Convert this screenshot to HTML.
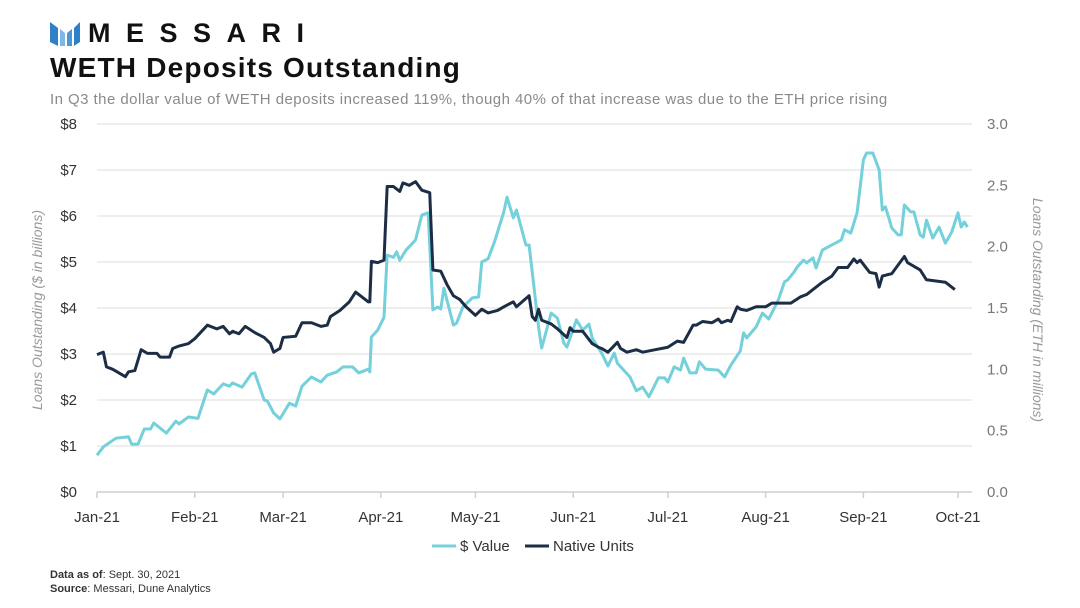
<!DOCTYPE html>
<html><head><meta charset="utf-8"><style>
body{margin:0;width:1080px;height:608px;background:#fff;font-family:"Liberation Sans",sans-serif;overflow:hidden;position:relative}
.t{position:absolute;white-space:nowrap}
</style></head><body>
<svg class="t" style="left:50px;top:20px" width="30" height="28" viewBox="0 0 30 28">
<polygon points="0,2 8,8 8,26 0,22" fill="#2f7fc9"/><polygon points="10,9 15,13 15,26 10,26" fill="#7fb8e6"/><polygon points="17,13 22,9 22,26 17,26" fill="#4a96d6"/><polygon points="24,8 30,2 30,22 24,26" fill="#2f7fc9"/></svg>
<div class="t" style="left:88px;top:18px;font-size:27px;font-weight:bold;letter-spacing:15.5px;color:#111">MESSARI</div>
<div class="t" style="left:50px;top:52px;font-size:28px;font-weight:bold;letter-spacing:1.2px;color:#111">WETH Deposits Outstanding</div>
<div class="t" style="left:50px;top:91px;font-size:15px;color:#8a8a8a;letter-spacing:0.45px">In Q3 the dollar value of WETH deposits increased 119%, though 40% of that increase was due to the ETH price rising</div>
<svg id="chart" class="t" style="left:0;top:0" width="1080" height="608"></svg>
<div class="t" style="left:50px;top:569px;font-size:11px;color:#333"><b>Data as of</b>: Sept. 30, 2021</div>
<div class="t" style="left:50px;top:583px;font-size:11px;color:#333"><b>Source</b>: Messari, Dune Analytics</div>
<script>
const monthLabels=["Jan-21","Feb-21","Mar-21","Apr-21","May-21","Jun-21","Jul-21","Aug-21","Sep-21","Oct-21"];
const monthDays=[0,31,59,90,120,151,181,212,243,273];
const leftTicks=[0,1,2,3,4,5,6,7,8];
const rightTicks=[0,0.5,1,1.5,2,2.5,3];
const usdDays=[0,2,6,10,11,13,15,17,18,22,25,26,29,32,35,37,40,42,43,46,49,50,53,54,56,58,61,63,65,68,71,73,76,78,81,83,86,86.5,87,89,91,92,94,95,96,98,101,103,105,106.5,108,109,110,113,114,116,119,121,122,124,126,129,130,132,133,136,137,140,140.5,141,144,146,148,149,152,154,156,157,160,162,164,165,169,171,173,175,178,180,181,183,185,186,188,190,191,193,197,199,201,204,205,206,209,211,213,216,218,219,221,222,224,225,227,228,230,233,236,237,239,241,243,244,246,248,249,250,252,254,255,256,258,259,261,262,263,265,267,269,271,273,274,275,276];
const usdValues=[0.8,0.98,1.17,1.2,1.04,1.04,1.37,1.37,1.5,1.28,1.54,1.48,1.63,1.6,2.22,2.13,2.35,2.3,2.37,2.28,2.57,2.59,2.0,1.98,1.72,1.59,1.93,1.87,2.3,2.5,2.39,2.54,2.61,2.72,2.72,2.59,2.67,2.61,3.37,3.52,3.8,5.15,5.1,5.22,5.04,5.26,5.48,6.02,6.07,3.96,4.02,3.98,4.43,3.63,3.67,4.02,4.22,4.24,5.0,5.07,5.43,6.09,6.41,5.96,6.13,5.37,5.37,3.6,3.35,3.13,3.89,3.78,3.24,3.15,3.74,3.52,3.65,3.35,3.02,2.74,3.02,2.8,2.5,2.2,2.28,2.07,2.48,2.48,2.39,2.72,2.65,2.91,2.59,2.59,2.83,2.67,2.65,2.5,2.76,3.07,3.46,3.35,3.59,3.89,3.76,4.17,4.57,4.61,4.78,4.89,5.04,4.98,5.09,4.87,5.26,5.37,5.48,5.7,5.63,6.07,7.22,7.37,7.37,7.0,6.13,6.2,5.74,5.59,5.59,6.24,6.09,6.09,5.59,5.54,5.91,5.52,5.76,5.41,5.65,6.07,5.76,5.87,5.76];
const ethDays=[0,2,3,5,9,10,12,14,16,19,20,23,24,26,29,31,35,38,40,42,43,45,47,50,53,55,56,58,59,63,65,68,71,73,74,77,80,82,86,86.5,87,89,91,92,94,96,97,99,101,103,105.5,106.5,109,111,113,115,116,117,120,122,124,127,129,132,133,137,138,139,140,141,144,146,149,150,151,154,157,159,160,162,165,166,168,171,173,177,181,184,186,189,190,192,195,197,198,200,201,203,204,206,209,212,214,220,223,225,227,230,233,235,238,240,241,242,245,247,248,249,252,256,257,261,263,269,272,273,275,276];
const ethValues=[1.12,1.14,1.02,1.0,0.94,0.98,0.99,1.16,1.13,1.13,1.1,1.1,1.17,1.19,1.21,1.25,1.36,1.33,1.35,1.29,1.31,1.29,1.35,1.3,1.26,1.21,1.14,1.17,1.26,1.27,1.38,1.38,1.35,1.36,1.43,1.48,1.55,1.63,1.55,1.55,1.88,1.87,1.89,2.49,2.49,2.45,2.52,2.5,2.53,2.46,2.44,1.81,1.8,1.69,1.6,1.57,1.54,1.51,1.44,1.49,1.46,1.48,1.51,1.55,1.51,1.6,1.43,1.4,1.49,1.4,1.37,1.33,1.26,1.34,1.31,1.31,1.21,1.18,1.17,1.14,1.22,1.17,1.14,1.16,1.14,1.16,1.18,1.23,1.22,1.36,1.36,1.39,1.38,1.41,1.38,1.4,1.39,1.51,1.49,1.48,1.51,1.51,1.54,1.54,1.59,1.61,1.65,1.71,1.76,1.83,1.83,1.9,1.87,1.89,1.79,1.78,1.67,1.76,1.78,1.92,1.87,1.81,1.73,1.71,1.65];
const NS="http://www.w3.org/2000/svg";
const svg=document.getElementById('chart');
const X0=97,X1=958,Y0=492,Y1=124;
const xS=d=>X0+d*(X1-X0)/273;
const yL=v=>Y0-v*(Y0-Y1)/8;
const yR=v=>Y0-v*(Y0-Y1)/3;
function mk(tag,attrs){const e=document.createElementNS(NS,tag);for(const k in attrs)e.setAttribute(k,attrs[k]);svg.appendChild(e);return e;}
leftTicks.forEach((v,i)=>{
 if(v>0){const g=mk('line',{x1:X0,x2:972,y1:yL(v),y2:yL(v),stroke:'#dedede','stroke-width':1});
 
 }
 const t=mk('text',{x:77,y:yL(v)+5,'text-anchor':'end','font-size':15,fill:'#333','font-family':'Liberation Sans'});
 t.textContent='$'+v;
 
 
});
rightTicks.forEach(v=>{
 const t=mk('text',{x:987,y:yR(v)+5,'font-size':15,fill:'#777','font-family':'Liberation Sans'});
 t.textContent=v.toFixed(1);
 
 
});
const ax=mk('line',{x1:X0,x2:972,y1:Y0,y2:Y0,stroke:'#cfcfcf','stroke-width':1.5});


monthDays.forEach((d,i)=>{
 const tk=mk('line',{x1:xS(d),x2:xS(d),y1:Y0,y2:Y0+6,stroke:'#cfcfcf','stroke-width':1.5});
 
 
 const t=mk('text',{x:xS(d),y:522,'text-anchor':'middle','font-size':15,fill:'#333','font-family':'Liberation Sans'});
 t.textContent=monthLabels[i];
 
 
});
const lt=mk('text',{transform:'translate(42,310) rotate(-90)','text-anchor':'middle','font-size':14,'font-style':'italic',fill:'#999','font-family':'Liberation Sans'});
lt.textContent='Loans Outstanding ($ in billions)';


const rt=mk('text',{transform:'translate(1033,310) rotate(90)','text-anchor':'middle','font-size':14,'font-style':'italic',fill:'#999','font-family':'Liberation Sans'});
rt.textContent='Loans Outstanding (ETH in millions)';


const p1=mk('polyline',{points:usdDays.map((d,i)=>xS(d)+','+yL(usdValues[i])).join(' '),fill:'none',stroke:'#74d0da','stroke-width':3,'stroke-linejoin':'round'});


const p2=mk('polyline',{points:ethDays.map((d,i)=>xS(d)+','+yR(ethValues[i])).join(' '),fill:'none',stroke:'#1c2e45','stroke-width':3,'stroke-linejoin':'round'});


const l1=mk('line',{x1:432,x2:456,y1:546,y2:546,stroke:'#74d0da','stroke-width':3});


const lt1=mk('text',{x:460,y:551,'font-size':15,fill:'#333','font-family':'Liberation Sans'});
lt1.textContent='$ Value';


const l2=mk('line',{x1:525,x2:549,y1:546,y2:546,stroke:'#1c2e45','stroke-width':3});


const lt2=mk('text',{x:553,y:551,'font-size':15,fill:'#333','font-family':'Liberation Sans'});
lt2.textContent='Native Units';


</script>
</body></html>
